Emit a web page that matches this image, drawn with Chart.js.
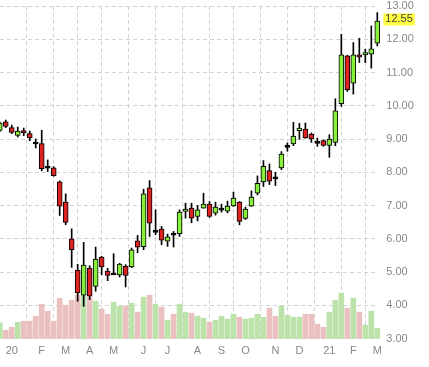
<!DOCTYPE html>
<html>
<head>
<meta charset="utf-8">
<script src="https://cdn.jsdelivr.net/npm/chart.js@4/dist/chart.umd.min.js"></script>
<style>
  html, body { margin: 0; padding: 0; background: #fff; }
  canvas { display: block; }
</style>
</head>
<body>
<canvas id="chart" width="429" height="367"></canvas>
<script>
// weekly candles, first one is two weeks before the "20" tick
const opens  = [9.26, 9.52, 9.34, 9.11, 9.25, 9.16, 8.89, 8.86, 8.16, 8.13, 7.71, 7.10, 6.00, 5.06, 4.30, 5.12,
                4.57, 5.45, 5.03, 4.93, 4.91, 5.18, 5.15, 5.94, 5.76, 7.53, 6.21, 6.29, 5.93, 6.15, 6.15, 6.82,
                6.92, 6.67, 6.92, 7.04, 6.77, 6.88, 6.83, 6.99, 7.10, 6.61, 6.98, 7.37, 7.71, 8.05, 7.84, 8.13,
                8.77, 8.85, 9.25, 9.30, 9.15, 8.91, 8.95, 8.81, 8.90, 10.06, 11.50, 10.68, 11.53, 11.53, 11.55, 11.88];
const highs  = [9.52, 9.57, 9.42, 9.36, 9.33, 9.24, 9.00, 9.26, 8.37, 8.17, 7.74, 7.35, 6.30, 5.23, 5.89, 5.19,
                5.75, 5.47, 5.11, 5.55, 5.26, 5.22, 5.72, 6.10, 7.49, 7.75, 6.87, 6.37, 6.14, 6.22, 6.87, 7.07,
                7.07, 7.00, 7.37, 7.12, 7.10, 7.04, 7.13, 7.40, 7.12, 6.95, 7.44, 7.89, 8.35, 8.25, 8.00, 8.62,
                8.88, 9.50, 9.47, 9.48, 9.18, 9.03, 8.97, 9.13, 10.21, 12.15, 11.52, 11.90, 12.03, 11.70, 12.40, 12.80];
const lows   = [9.22, 9.34, 9.16, 9.06, 9.10, 8.95, 8.73, 8.04, 8.02, 7.88, 6.70, 6.42, 5.14, 4.12, 3.97, 4.17,
                4.42, 4.92, 4.74, 4.92, 4.85, 4.55, 5.13, 5.58, 5.67, 6.07, 6.12, 5.82, 5.77, 5.75, 6.07, 6.62,
                6.48, 6.54, 6.92, 6.64, 6.71, 6.80, 6.78, 6.97, 6.42, 6.58, 6.97, 7.32, 7.57, 7.63, 7.60, 8.08,
                8.63, 8.80, 8.99, 9.02, 8.90, 8.78, 8.78, 8.45, 8.80, 9.98, 10.43, 10.35, 11.30, 11.30, 11.13, 11.80];
const closes = [9.48, 9.38, 9.20, 9.24, 9.18, 9.03, 8.87, 8.11, 8.14, 7.90, 6.98, 6.49, 5.67, 4.37, 5.21, 4.27,
                5.39, 5.15, 4.90, 4.95, 5.24, 4.90, 5.67, 5.75, 7.35, 6.47, 6.23, 5.96, 6.06, 6.13, 6.80, 6.89,
                6.62, 6.87, 7.04, 6.67, 6.95, 6.90, 6.98, 7.22, 6.52, 6.89, 7.25, 7.67, 8.18, 7.73, 7.82, 8.55,
                8.79, 9.09, 9.33, 9.03, 9.00, 8.89, 8.81, 9.00, 9.85, 11.53, 10.48, 11.53, 11.46, 11.60, 11.71, 12.55];
const volumes = [157, 83, 113, 163, 173, 173, 223, 343, 273, 173, 403, 333, 383, 433, 433, 407,
                 373, 293, 243, 363, 323, 323, 353, 263, 413, 433, 343, 313, 183, 243, 343, 263,
                 253, 223, 203, 163, 183, 223, 193, 243, 213, 193, 203, 243, 213, 303, 223, 323,
                 233, 213, 213, 243, 243, 143, 113, 263, 383, 453, 303, 403, 263, 133, 273, 103];

const monthTickIdx = [0, 5, 9, 13, 17, 22, 26, 31, 35, 39, 44, 48, 53, 57, 61];
const monthLabels = ['20', 'F', 'M', 'A', 'M', 'J', 'J', 'A', 'S', 'O', 'N', 'D', '21', 'F', 'M'];

const priceTicks = [3, 4, 5, 6, 7, 8, 9, 10, 11, 12, 13];

const weekIdx = opens.map((_, i) => i - 2);

const UP = '#88f03a', DOWN = '#dd2222';
const VOL_UP = '#bce3aa', VOL_DOWN = '#ebc0c0';
const FONT = '"Liberation Sans", Arial, sans-serif';

function isDoji(i) {
  return Math.abs(closes[i] - opens[i]) < 0.03;
}

const bodyData = weekIdx.map((x, i) => {
  if (isDoji(i)) {
    const mid = (opens[i] + closes[i]) / 2;
    return { x, y: [mid - 0.03, mid + 0.03] };
  }
  return { x, y: [opens[i], closes[i]] };
});
const bodyColors = weekIdx.map((_, i) => isDoji(i) ? '#000' : (closes[i] >= opens[i] ? UP : DOWN));
const wickData = weekIdx.map((x, i) => ({ x, y: [lows[i], highs[i]] }));
const volData = weekIdx.map((x, i) => ({ x, y: volumes[i] }));
const volColors = weekIdx.map((_, i) => closes[i] >= opens[i] ? VOL_UP : VOL_DOWN);

const lastPriceTag = {
  id: 'lastPriceTag',
  afterDraw(chart) {
    const { ctx, chartArea, scales } = chart;
    const last = closes[closes.length - 1];
    const y = scales.y.getPixelForValue(last) - 1.5;
    const text = last.toFixed(2);
    ctx.save();
    ctx.font = '11px ' + FONT;
    const w = ctx.measureText(text).width;
    const x = chartArea.right + 8;
    ctx.fillStyle = '#ffff44';
    ctx.fillRect(x - 2, y - 6, w + 4, 12);
    ctx.fillStyle = '#444';
    ctx.textBaseline = 'middle';
    ctx.fillText(text, x, y);
    ctx.restore();
  }
};

new Chart(document.getElementById('chart'), {
  type: 'bar',
  data: {
    datasets: [
      { data: bodyData, backgroundColor: bodyColors, borderColor: '#000', borderWidth: 1,
        borderSkipped: false, barThickness: 5, order: 0, yAxisID: 'y' },
      { data: wickData, backgroundColor: '#000', borderWidth: 0, barThickness: 1, order: 1, yAxisID: 'y' },
      { data: volData, backgroundColor: volColors, borderWidth: 0, barThickness: 5, order: 2, yAxisID: 'vol' }
    ]
  },
  options: {
    responsive: false,
    devicePixelRatio: 1,
    animation: false,
    layout: { padding: { top: 6, left: 0, right: 0, bottom: 0 } },
    datasets: { bar: { grouped: false, clip: false } },
    plugins: { legend: { display: false }, tooltip: { enabled: false } },
    scales: {
      x: {
        type: 'linear',
        offset: false,
        min: -1.96,
        max: 61,
        afterBuildTicks: scale => { scale.ticks = monthTickIdx.map(v => ({ value: v })); },
        afterFit: scale => { scale.height = 28.5; scale.paddingLeft = 0; scale.paddingRight = 0; },
        grid: { color: '#d2d2d2', drawTicks: false },
        border: { display: false, dash: [4, 3] },
        ticks: {
          autoSkip: false, maxRotation: 0, padding: 6, color: '#888',
          font: { family: FONT, size: 11 },
          callback: v => monthLabels[monthTickIdx.indexOf(v)]
        }
      },
      y: {
        position: 'right',
        min: 3,
        max: 13,
        afterBuildTicks: scale => { scale.ticks = priceTicks.map(v => ({ value: v })); },
        afterFit: scale => { scale.width = 51.7; scale.paddingTop = 0; scale.paddingBottom = 0; },
        grid: { color: '#d2d2d2', drawTicks: false },
        border: { display: false, dash: [4, 3] },
        ticks: {
          padding: 9, color: '#888',
          font: { family: FONT, size: 11 },
          callback: v => v.toFixed(2)
        }
      },
      vol: {
        display: false,
        min: 0,
        max: 3325
      }
    }
  },
  plugins: [lastPriceTag]
});
</script>
</body>
</html>
